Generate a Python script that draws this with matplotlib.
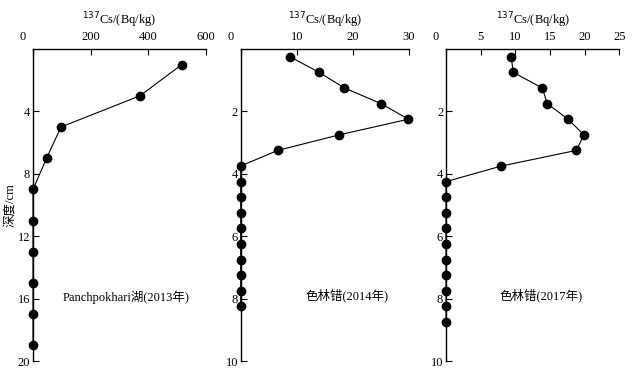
import matplotlib.pyplot as plt
from matplotlib.transforms import ScaledTranslation

plt.rcParams["font.family"] = ["Liberation Serif", "Noto Sans CJK SC"]
plt.rcParams["font.size"] = 9

# Panchpokhari lake (2013)
depth_p = [1, 3, 5, 7, 9, 11, 13, 15, 17, 19]
cs_p = [516, 371, 97, 47, 0, 0, 0, 0, 0, 0]

# Selin Co (2014)
depth_s14 = [0.25, 0.75, 1.25, 1.75, 2.25, 2.75, 3.25, 3.75, 4.25,
             4.75, 5.25, 5.75, 6.25, 6.75, 7.25, 7.75, 8.25]
cs_s14 = [8.8, 14.0, 18.5, 25.0, 29.9, 17.6, 6.6, 0, 0,
          0, 0, 0, 0, 0, 0, 0, 0]

# Selin Co (2017)
depth_s17 = [0.25, 0.75, 1.25, 1.75, 2.25, 2.75, 3.25, 3.75, 4.25,
             4.75, 5.25, 5.75, 6.25, 6.75, 7.25, 7.75, 8.25, 8.75]
cs_s17 = [9.4, 9.7, 13.9, 14.6, 17.6, 19.9, 18.8, 8.0, 0,
          0, 0, 0, 0, 0, 0, 0, 0, 0]

panels = [
    (depth_p, cs_p, (0, 600), [0, 200, 400, 600], (0, 20), [4, 8, 12, 16, 20],
     "Panchpokhari湖(2013年)", (0.54, 0.205)),
    (depth_s14, cs_s14, (0, 30), [0, 10, 20, 30], (0, 10), [2, 4, 6, 8, 10],
     "色林错(2014年)", (0.63, 0.21)),
    (depth_s17, cs_s17, (0, 25), [0, 5, 10, 15, 20, 25], (0, 10), [2, 4, 6, 8, 10],
     "色林错(2017年)", (0.55, 0.21)),
]

lefts = [33, 240.7, 446]
rights = [206, 409, 619.3]
W, H = 632, 371
top, bottom = 49, 361

fig = plt.figure(figsize=(6.32, 3.71), dpi=100)

for i, (d, v, xlim, xt, ylim, yt, label, pos) in enumerate(panels):
    ax = fig.add_axes([lefts[i] / W, 1 - bottom / H,
                       (rights[i] - lefts[i]) / W, (bottom - top) / H])
    ax.plot(v, d, color="black", lw=0.8, marker="o", ms=6, clip_on=False, zorder=3)
    ax.set_xlim(*xlim)
    ax.set_ylim(ylim[1], ylim[0])
    ax.set_xticks(xt)
    ax.set_yticks(yt)
    ax.xaxis.tick_top()
    ax.xaxis.set_label_position("top")
    ax.set_xlabel("$^{137}$Cs/(Bq/kg)", fontsize=9, labelpad=5)
    for s in ["right", "bottom"]:
        ax.spines[s].set_visible(False)
    ax.spines["left"].set_linewidth(1.0)
    ax.spines["top"].set_linewidth(1.0)
    ax.tick_params(direction="in", length=4, width=0.8, labelsize=9)
    ax.tick_params(axis="x", pad=4)
    ax.tick_params(axis="y", pad=2)
    # shift the "0" label left, clear of the depth axis
    first = ax.get_xticklabels()[0]
    first.set_transform(first.get_transform() + ScaledTranslation(-0.1, 0, fig.dpi_scale_trans))
    ax.text(pos[0], pos[1], label, transform=ax.transAxes, ha="center", va="center", fontsize=9)
    if i == 0:
        ax.set_ylabel("深度/cm", fontsize=9, labelpad=1)

fig.savefig("out.png", dpi=100)
